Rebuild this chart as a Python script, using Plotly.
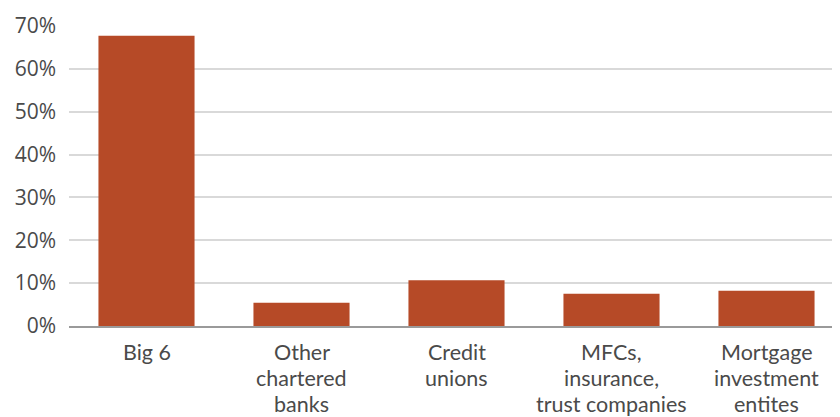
import plotly.graph_objects as go

categories = ["Big 6", "Other chartered banks", "Credit unions",
              "MFCs, insurance, trust companies", "Mortgage investment entites"]
category_lines = [["Big 6"], ["Other", "chartered", "banks"], ["Credit", "unions"],
                  ["MFCs,", "insurance,", "trust companies"],
                  ["Mortgage", "investment", "entites"]]
shares = [67.7, 5.4, 10.7, 7.5, 8.2]
tick_vals = [0, 10, 20, 30, 40, 50, 60, 70]
tick_text = ["0%", "10%", "20%", "30%", "40%", "50%", "60%", "70%"]

fig = go.Figure(go.Bar(x=categories, y=shares, marker_color="#B64A27",
                       marker_line_width=0, width=0.62))

annotations = []
for cat, lines in zip(categories, category_lines):
    for j, line in enumerate(lines):
        annotations.append(dict(
            x=cat, y=0, xref="x", yref="y", text=line, showarrow=False,
            xanchor="center", yanchor="middle", yshift=-26.4 - 26 * j,
            borderpad=0,
            font=dict(family="Lato, sans-serif", size=21.5, color="#4A4A4A")))

fig.update_layout(
    width=840, height=417,
    margin=dict(l=61, r=4, t=18, b=99),
    plot_bgcolor="white", paper_bgcolor="white",
    font=dict(family="Open Sans, sans-serif", size=21, color="#4A4A4A"),
    showlegend=False,
    annotations=annotations,
)
fig.update_yaxes(range=[0, 70], tickvals=tick_vals, ticktext=tick_text,
                 showgrid=True, gridcolor="#D9D9D9", gridwidth=1.5,
                 zeroline=False, showline=False, ticks="", ticklabelstandoff=12,
                 automargin=False,
                 tickfont=dict(family="Open Sans, sans-serif", size=21, color="#4A4A4A"))
fig.update_xaxes(showline=True, linecolor="#9A9A9A", linewidth=2, ticks="",
                 showticklabels=False, automargin=False)
fig.write_html("out.html")
